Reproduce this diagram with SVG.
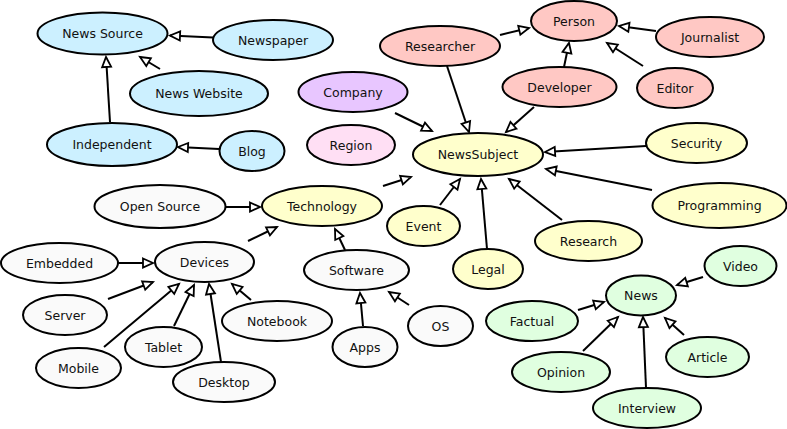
<svg xmlns="http://www.w3.org/2000/svg" width="787" height="429" viewBox="0 0 787 429">
<style>
ellipse{stroke:#000;stroke-width:2}
text{font-family:"DejaVu Sans",sans-serif;font-size:12.5px;text-anchor:middle;fill:#111}
.b{fill:#ccf0ff}.p{fill:#ffc8c4}.v{fill:#e8c6ff}.r{fill:#ffdff4}.y{fill:#ffffcc}.g{fill:#fafafa}.n{fill:#e0ffe0}
#edges line{stroke:#000;stroke-width:2;marker-end:url(#ah)}
</style>
<defs>
<marker id="ah" markerUnits="userSpaceOnUse" markerWidth="14" markerHeight="12" refX="11" refY="5" orient="auto" overflow="visible" viewBox="0 0 14 12">
<path d="M1,0.5 L11,5 L1,9.5 Z" fill="#fff" stroke="#000" stroke-width="1.8" stroke-linejoin="miter"/>
</marker>
</defs>
<rect width="787" height="429" fill="#fff"/>
<g id="edges">
<line x1="213" y1="37.5" x2="170" y2="35.5"/>
<line x1="160" y1="69" x2="140" y2="57"/>
<line x1="110" y1="122" x2="106" y2="57"/>
<line x1="219" y1="149" x2="178" y2="147"/>
<line x1="395" y1="113" x2="432" y2="131"/>
<line x1="447" y1="66" x2="469" y2="132"/>
<line x1="534" y1="107" x2="506" y2="132"/>
<line x1="500" y1="35" x2="529" y2="28"/>
<line x1="564" y1="67" x2="569" y2="43"/>
<line x1="656" y1="31" x2="619" y2="26"/>
<line x1="643" y1="66" x2="607" y2="43"/>
<line x1="646" y1="146" x2="545" y2="152"/>
<line x1="652" y1="190" x2="546" y2="169"/>
<line x1="383" y1="186" x2="411" y2="177"/>
<line x1="440" y1="205" x2="460" y2="179"/>
<line x1="487" y1="249" x2="481" y2="179"/>
<line x1="562" y1="220" x2="509" y2="179"/>
<line x1="226" y1="207" x2="260" y2="207"/>
<line x1="248" y1="241" x2="277" y2="227"/>
<line x1="345" y1="250" x2="335" y2="229"/>
<line x1="118" y1="263" x2="153" y2="263"/>
<line x1="108" y1="299" x2="153" y2="282"/>
<line x1="104" y1="347" x2="179" y2="284"/>
<line x1="174" y1="326" x2="194" y2="285"/>
<line x1="221" y1="362" x2="209" y2="284"/>
<line x1="251" y1="300" x2="232" y2="284"/>
<line x1="363" y1="326" x2="360" y2="293"/>
<line x1="409" y1="305" x2="389" y2="292"/>
<line x1="703" y1="277" x2="677" y2="285"/>
<line x1="578" y1="310" x2="604" y2="302"/>
<line x1="583" y1="351" x2="618" y2="317"/>
<line x1="646" y1="388" x2="643" y2="317"/>
<line x1="684" y1="335" x2="665" y2="318"/>
</g>
<g id="news-source"><ellipse class="b" cx="102.5" cy="33.5" rx="65" ry="21"/><text x="102.5" y="38">News Source</text></g>
<g id="newspaper"><ellipse class="b" cx="273" cy="40" rx="60" ry="20"/><text x="273" y="44.5">Newspaper</text></g>
<g id="news-website"><ellipse class="b" cx="199" cy="93.5" rx="69" ry="22.5"/><text x="199" y="98">News Website</text></g>
<g id="independent"><ellipse class="b" cx="112" cy="144.5" rx="65" ry="21.5"/><text x="112" y="149">Independent</text></g>
<g id="blog"><ellipse class="b" cx="252" cy="151" rx="32.5" ry="20"/><text x="252" y="155.5">Blog</text></g>
<g id="company"><ellipse class="v" cx="353" cy="92" rx="54.5" ry="20"/><text x="353" y="96.5">Company</text></g>
<g id="region"><ellipse class="r" cx="351" cy="145" rx="44" ry="20"/><text x="351" y="149.5">Region</text></g>
<g id="person"><ellipse class="p" cx="574" cy="21" rx="43" ry="20"/><text x="574" y="25.5">Person</text></g>
<g id="researcher"><ellipse class="p" cx="440" cy="46" rx="60" ry="20"/><text x="440" y="50.5">Researcher</text></g>
<g id="journalist"><ellipse class="p" cx="710" cy="37" rx="54" ry="20"/><text x="710" y="41.5">Journalist</text></g>
<g id="developer"><ellipse class="p" cx="559.5" cy="87" rx="57" ry="20"/><text x="559.5" y="91.5">Developer</text></g>
<g id="editor"><ellipse class="p" cx="675" cy="88" rx="38" ry="20"/><text x="675" y="92.5">Editor</text></g>
<g id="newssubject"><ellipse class="y" cx="478" cy="154.5" rx="65" ry="21.5"/><text x="478" y="159">NewsSubject</text></g>
<g id="security"><ellipse class="y" cx="696.5" cy="143" rx="50.5" ry="20"/><text x="696.5" y="147.5">Security</text></g>
<g id="open-source"><ellipse class="g" cx="160" cy="206.5" rx="65.5" ry="21.5"/><text x="160" y="211">Open Source</text></g>
<g id="technology"><ellipse class="y" cx="322" cy="206" rx="60" ry="20"/><text x="322" y="210.5">Technology</text></g>
<g id="programming"><ellipse class="y" cx="719.5" cy="205.5" rx="67" ry="22.5"/><text x="719.5" y="210">Programming</text></g>
<g id="event"><ellipse class="y" cx="423.5" cy="226" rx="36.5" ry="20"/><text x="423.5" y="230.5">Event</text></g>
<g id="research"><ellipse class="y" cx="588.5" cy="241" rx="53.5" ry="20"/><text x="588.5" y="245.5">Research</text></g>
<g id="legal"><ellipse class="y" cx="488" cy="269" rx="35" ry="20"/><text x="488" y="273.5">Legal</text></g>
<g id="embedded"><ellipse class="g" cx="59.5" cy="263" rx="58.5" ry="20"/><text x="59.5" y="267.5">Embedded</text></g>
<g id="devices"><ellipse class="g" cx="204.5" cy="262" rx="49.5" ry="20"/><text x="204.5" y="266.5">Devices</text></g>
<g id="software"><ellipse class="g" cx="356.5" cy="270" rx="52.5" ry="20"/><text x="356.5" y="274.5">Software</text></g>
<g id="server"><ellipse class="g" cx="65" cy="315" rx="42" ry="20"/><text x="65" y="319.5">Server</text></g>
<g id="notebook"><ellipse class="g" cx="277" cy="321" rx="55" ry="20"/><text x="277" y="325.5">Notebook</text></g>
<g id="tablet"><ellipse class="g" cx="163.5" cy="347" rx="38.5" ry="20"/><text x="163.5" y="351.5">Tablet</text></g>
<g id="mobile"><ellipse class="g" cx="78.5" cy="368" rx="42.5" ry="20"/><text x="78.5" y="372.5">Mobile</text></g>
<g id="desktop"><ellipse class="g" cx="224" cy="382" rx="51" ry="20"/><text x="224" y="386.5">Desktop</text></g>
<g id="apps"><ellipse class="g" cx="365" cy="347" rx="32.5" ry="20"/><text x="365" y="351.5">Apps</text></g>
<g id="os"><ellipse class="g" cx="440.5" cy="326" rx="32.5" ry="20"/><text x="440.5" y="330.5">OS</text></g>
<g id="video"><ellipse class="n" cx="740.5" cy="266" rx="36" ry="20"/><text x="740.5" y="270.5">Video</text></g>
<g id="news"><ellipse class="n" cx="641" cy="295.5" rx="35" ry="20"/><text x="641" y="300">News</text></g>
<g id="factual"><ellipse class="n" cx="532" cy="321" rx="46" ry="20"/><text x="532" y="325.5">Factual</text></g>
<g id="opinion"><ellipse class="n" cx="561" cy="372" rx="49" ry="20"/><text x="561" y="376.5">Opinion</text></g>
<g id="article"><ellipse class="n" cx="707.5" cy="357" rx="41.5" ry="20"/><text x="707.5" y="361.5">Article</text></g>
<g id="interview"><ellipse class="n" cx="647" cy="408" rx="54" ry="20"/><text x="647" y="412.5">Interview</text></g>
</svg>
